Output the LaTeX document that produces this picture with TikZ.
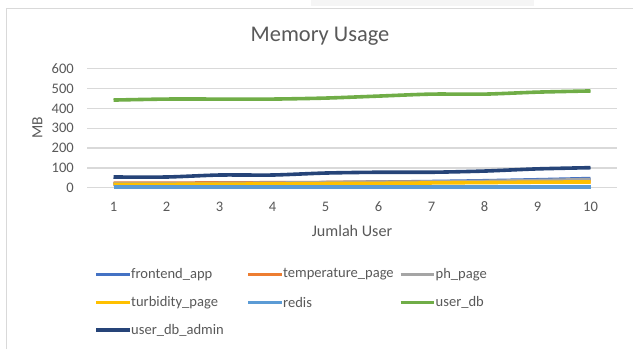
\documentclass[tikz,border=0pt]{standalone}
\usepackage{fontspec}
\setmainfont{Carlito}
\definecolor{txtgray}{HTML}{595959}
\definecolor{gridgray}{HTML}{D9D9D9}
\definecolor{cFront}{HTML}{4472C4}
\definecolor{cTemp}{HTML}{ED7D31}
\definecolor{cPh}{HTML}{A5A5A5}
\definecolor{cTurb}{HTML}{FFC000}
\definecolor{cRedis}{HTML}{5B9BD5}
\definecolor{cUserDb}{HTML}{70AD47}
\definecolor{cAdmin}{HTML}{264478}
\tikzset{
  series/.style={line width=3.6bp, line join=round, smooth, tension=0.45},
  legline/.style={line width=3.6bp},
  ticklab/.style={text=txtgray, inner sep=0pt, font=\fontsize{14.6}{17}\selectfont},
  legtext/.style={text=txtgray, inner sep=0pt, anchor=west, font=\fontsize{14.6}{17}\selectfont},
  gridline/.style={draw=gridgray, line width=1.2bp},
}
\begin{document}
\begin{tikzpicture}[x=1bp,y=-1bp]
\useasboundingbox (0,0) rectangle (633,349);
\fill[white] (0,0) rectangle (633,349);
% faint strip along the top edge
\fill[black!4] (311,0) rectangle (534,5.5);
% chart frame
\draw[gridgray, line width=1bp] (6.5,349) -- (6.5,8) -- (633,8);

% title
\node[text=txtgray, inner sep=0pt, anchor=base, font=\fontsize{22.5}{26}\selectfont] (title) at (320,41.7) {Memory Usage};

% horizontal grid lines and value labels
\foreach \v/\yy in {0/187.7,100/167.9,200/148.0,300/128.2,400/108.4,500/88.5,600/68.7}{
  \draw[gridline] (87,\yy) -- (617,\yy);
  \node[ticklab, anchor=east] (ylab\v) at (74,\yy) {\v};
}
% category labels
\foreach \i in {1,...,10}{
  \node[ticklab] (xlab\i) at ({113.5+53*(\i-1)},206.7) {\i};
}
% axis titles
\node[text=txtgray, font=\fontsize{16.2}{19}\selectfont] (xtitle) at (352,231) {Jumlah User};
\node[text=txtgray, rotate=90, font=\fontsize{15.6}{19}\selectfont] (ytitle) at (37.5,127.5) {MB};

% data series
\begin{scope}[x=53bp, y=0.1983bp, xshift=60.5bp, yshift=-187.7bp]
  \draw[series, cFront] plot coordinates {(1,18) (2,19) (3,20) (4,22) (5,25) (6,28) (7,31) (8,35) (9,40) (10,46)};
  \draw[series, cTemp] plot coordinates {(1,23) (2,23) (3,24) (4,25) (5,26) (6,27) (7,28) (8,29) (9,30) (10,31)};
  \draw[series, cPh] plot coordinates {(1,20) (2,20) (3,21) (4,23) (5,25) (6,27) (7,29) (8,32) (9,36) (10,41)};
  \draw[series, cTurb] plot coordinates {(1,16) (2,17) (3,18) (4,19) (5,21) (6,22) (7,24) (8,26) (9,28) (10,29)};
  \draw[series, cRedis] plot coordinates {(1,5) (2,5) (3,5) (4,5) (5,5) (6,5) (7,5) (8,5) (9,5) (10,5)};
  \draw[series, cUserDb] plot coordinates {(1,442) (2,447) (3,447) (4,447) (5,452) (6,462) (7,472) (8,472) (9,482) (10,488)};
  \draw[series, cAdmin] plot coordinates {(1,54) (2,54) (3,64) (4,64) (5,74) (6,78) (7,78) (8,84) (9,95) (10,101)};
\end{scope}

% legend
\foreach \name/\col/\lx/\ly/\lab in {
  lgA/cFront/96/274.3/frontend\_app,
  lgB/cTemp/248/274.3/temperature\_page,
  lgC/cPh/400.5/274.3/ph\_page,
  lgD/cTurb/96/302.3/turbidity\_page,
  lgE/cRedis/248/302.3/redis,
  lgF/cUserDb/400.5/302.3/user\_db,
  lgG/cAdmin/96/330/user\_db\_admin}{
  \draw[legline, \col] (\lx,\ly) -- ++(33.5,0);
  \node[legtext] (\name) at (\lx+35,\ly) {\lab};
}
\end{tikzpicture}
\end{document}
